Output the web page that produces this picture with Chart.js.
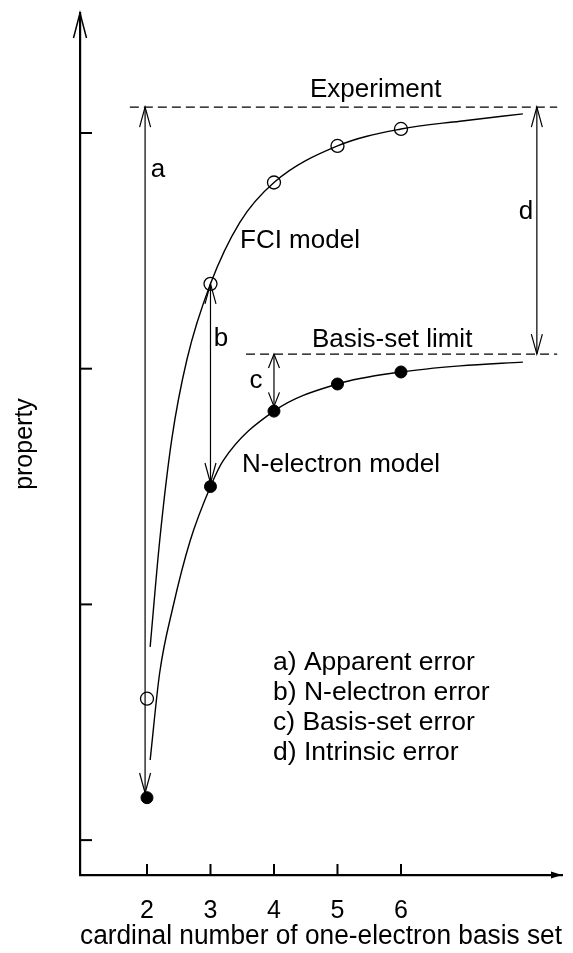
<!DOCTYPE html>
<html>
<head>
<meta charset="utf-8">
<script src="https://cdn.jsdelivr.net/npm/chart.js@4/dist/chart.umd.min.js"></script>
<style>
  html, body { margin: 0; padding: 0; background: #fff; }
  canvas { display: block; }
</style>
</head>
<body>
<canvas id="chart" width="573" height="953"></canvas>
<script>
// computed points for each cardinal number
var cardinal = [2, 3, 4, 5, 6];
var fciValues = [1.60, 3.36, 3.79, 3.945, 4.017];
var nElecValues = [1.18, 2.50, 2.82, 2.935, 2.986];

// extrapolation curves (x, property)
var fciCurveX = [2.05, 2.2, 2.39, 2.63, 3.0, 3.46, 4.0, 5.0, 6.0, 6.93, 7.92];
var fciCurveY = [1.82, 2.27, 2.70, 3.04, 3.36, 3.62, 3.79, 3.945, 4.017, 4.05, 4.081];
var nElecCurveX = [2.05, 2.2, 2.41, 2.68, 3.0, 3.2, 4.0, 5.0, 6.0, 6.93, 7.92];
var nElecCurveY = [1.34, 1.71, 1.99, 2.27, 2.50, 2.61, 2.82, 2.935, 2.986, 3.012, 3.028];

// reference levels
var experiment = 4.11;
var basisSetLimit = 3.062;
var experimentSpan = [1.73, 8.46];
var limitSpan = [3.56, 8.46];

// error arrows a-d
var arrowLabels = ['a', 'b', 'c', 'd'];
var arrowX = [1.97, 3, 4, 8.14];
var arrowTop = [4.11, 3.36, 3.062, 4.11];
var arrowBottom = [1.20, 2.515, 2.84, 3.062];

var xTickValues = [2, 3, 4, 5, 6];
var yTickValues = [1, 2, 3, 4];
var xMin = 0.945, xMax = 8.536;
var yMin = 0.852, yMax = 4.509;

var legendLines = ['a) Apparent error', 'b) N-electron error', 'c) Basis-set error', 'd) Intrinsic error'];

var FONT = "'Liberation Sans', Arial, Helvetica, sans-serif";
Chart.defaults.font.family = FONT;
Chart.defaults.color = '#000';

function toPoints(xs, ys) {
    return xs.map(function (x, i) { return {x: x, y: ys[i]}; });
}

// open "V" arrow head, dir -1 points up, +1 points down
function vHead(ctx, x, y, dir, len, half) {
    ctx.beginPath();
    ctx.moveTo(x - half, y - dir * len);
    ctx.lineTo(x, y);
    ctx.lineTo(x + half, y - dir * len);
    ctx.stroke();
}

var sketchPlugin = {
    id: 'sketch',
    afterDatasetsDraw: function (chart) {
        var ctx = chart.ctx;
        var xs = chart.scales.x, ys = chart.scales.y;
        var area = chart.chartArea;
        ctx.save();
        ctx.strokeStyle = '#000';
        ctx.fillStyle = '#000';

        // dashed levels
        ctx.lineWidth = 1.2;
        ctx.setLineDash([9, 5]);
        [[experiment, experimentSpan], [basisSetLimit, limitSpan]].forEach(function (lv) {
            var y = ys.getPixelForValue(lv[0]);
            ctx.beginPath();
            ctx.moveTo(xs.getPixelForValue(lv[1][0]), y);
            ctx.lineTo(xs.getPixelForValue(lv[1][1]), y);
            ctx.stroke();
        });
        ctx.setLineDash([]);

        // double headed error arrows
        ctx.lineWidth = 1.2;
        arrowLabels.forEach(function (lab, i) {
            var x = xs.getPixelForValue(arrowX[i]);
            var y1 = ys.getPixelForValue(arrowTop[i]);
            var y2 = ys.getPixelForValue(arrowBottom[i]);
            var len = lab === 'c' ? 14 : 20;
            ctx.beginPath();
            ctx.moveTo(x, y1);
            ctx.lineTo(x, y2);
            ctx.stroke();
            vHead(ctx, x, y1, -1, len, 5.5);
            vHead(ctx, x, y2, 1, len, 5.5);
        });

        // annotations
        ctx.font = '26px ' + FONT;
        ctx.textBaseline = 'alphabetic';
        ctx.textAlign = 'left';
        ctx.fillText('Experiment', 310, 97);
        ctx.fillText('Basis-set limit', 312, 347);
        ctx.fillText('FCI model', 240, 248);
        ctx.fillText('N-electron model', 242, 472);
        ctx.font = '26.5px ' + FONT;
        legendLines.forEach(function (t, i) {
            ctx.fillText(t, 273, 670 + i * 30);
        });

        ctx.font = '26px ' + FONT;
        ctx.textAlign = 'center';
        ctx.textBaseline = 'middle';
        var letterPos = {a: [158, 170], b: [221, 339], c: [256, 381], d: [526, 212]};
        arrowLabels.forEach(function (lab) {
            ctx.fillText(lab, letterPos[lab][0], letterPos[lab][1]);
        });

        // inward tick marks
        ctx.lineWidth = 2;
        ys.ticks.forEach(function (t) {
            var y = ys.getPixelForValue(t.value);
            ctx.beginPath();
            ctx.moveTo(area.left, y);
            ctx.lineTo(area.left + 12, y);
            ctx.stroke();
        });
        xs.ticks.forEach(function (t) {
            var x = xs.getPixelForValue(t.value);
            ctx.beginPath();
            ctx.moveTo(x, area.bottom);
            ctx.lineTo(x, area.bottom - 11);
            ctx.stroke();
        });

        // axis arrows
        ctx.lineWidth = 1.5;
        vHead(ctx, area.left, area.top, -1, 25, 6.5);
        ctx.beginPath();
        ctx.moveTo(area.right, area.bottom);
        ctx.lineTo(area.right - 11, area.bottom - 3.5);
        ctx.lineTo(area.right - 11, area.bottom + 3.5);
        ctx.closePath();
        ctx.fill();

        ctx.restore();
    }
};

new Chart(document.getElementById('chart'), {
    type: 'scatter',
    data: {
        datasets: [
            {data: toPoints(fciCurveX, fciCurveY), showLine: true, pointRadius: 0,
                borderColor: '#000', borderWidth: 1.4, cubicInterpolationMode: 'monotone'},
            {data: toPoints(nElecCurveX, nElecCurveY), showLine: true, pointRadius: 0,
                borderColor: '#000', borderWidth: 1.4, cubicInterpolationMode: 'monotone'},
            {data: toPoints(cardinal, fciValues), pointRadius: 6.5, pointBackgroundColor: '#fff',
                pointBorderColor: '#000', pointBorderWidth: 1.3},
            {data: toPoints(cardinal, nElecValues), pointRadius: 6, pointBackgroundColor: '#000',
                pointBorderColor: '#000', pointBorderWidth: 1}
        ]
    },
    options: {
        responsive: false,
        devicePixelRatio: 1,
        animation: false,
        events: [],
        layout: {padding: {top: 13, right: 11, left: 0, bottom: 0}},
        plugins: {legend: {display: false}, tooltip: {enabled: false}},
        scales: {
            x: {
                type: 'linear', min: xMin, max: xMax,
                grid: {display: false},
                border: {display: true, color: '#000', width: 2.2},
                ticks: {color: '#000', font: {size: 25}, padding: 13, maxRotation: 0, autoSkip: false},
                afterBuildTicks: function (s) { s.ticks = xTickValues.map(function (v) { return {value: v}; }); },
                afterFit: function (s) { s.height = 78; },
                title: {display: true, text: 'cardinal number of one-electron basis set',
                    color: '#000', font: {size: 27}, padding: 0}
            },
            y: {
                type: 'linear', min: yMin, max: yMax,
                grid: {display: false},
                border: {display: true, color: '#000', width: 2.2},
                ticks: {display: false},
                afterBuildTicks: function (s) { s.ticks = yTickValues.map(function (v) { return {value: v}; }); },
                afterFit: function (s) { s.width = 80; },
                title: {display: true, text: 'property', color: '#000', font: {size: 25}, padding: {top: 10}}
            }
        }
    },
    plugins: [sketchPlugin]
});
</script>
</body>
</html>
